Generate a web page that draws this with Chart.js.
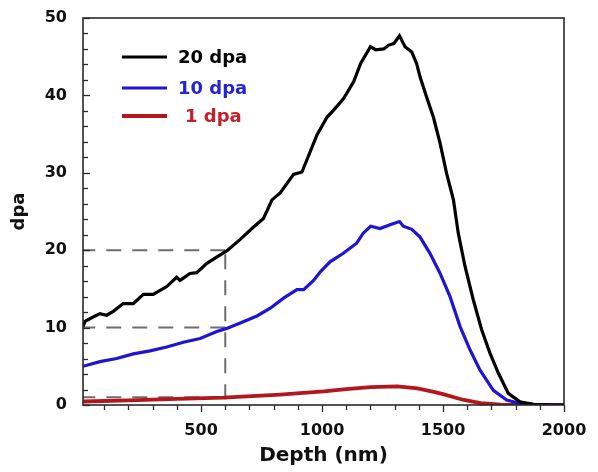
<!DOCTYPE html>
<html><head><meta charset="utf-8">
<script src="https://cdn.jsdelivr.net/npm/chart.js@4.4.1/dist/chart.umd.min.js"></script>
<style>html,body{margin:0;padding:0;background:#fff}#wrap{width:598px;height:472px}</style>
</head><body><div id="wrap"><canvas id="c" width="598" height="472"></canvas></div>
<script>
// ---- data ----
const seriesNames = ['20 dpa', '10 dpa', '1 dpa'];

const depth20 = [12,20,50,82,110,137,178,220,261,302,358,399,413,454,482,524,579,606,662,717,758,793,827,882,917,979,1021,1048,1089,1131,1159,1200,1221,1255,1276,1297,1320,1343,1371,1391,1405,1432,1460,1488,1515,1543,1563,1591,1625,1660,1694,1729,1770,1818,1874,1950,2000];
const dpa20   = [10.1,10.8,11.3,11.8,11.6,12.1,13.1,13.1,14.3,14.3,15.3,16.5,16.1,17.0,17.1,18.3,19.4,19.9,21.4,23.0,24.1,26.5,27.4,29.8,30.1,34.9,37.2,38.1,39.6,41.8,44.1,46.3,45.9,46.0,46.5,46.7,47.7,46.3,45.6,44.1,42.4,39.8,37.2,33.8,29.9,26.5,22.2,17.9,13.6,9.7,6.7,4.1,1.5,0.4,0.1,0,0];

const depth10 = [12,82,151,220,289,358,427,496,565,606,662,731,786,841,896,924,965,993,1033,1088,1143,1170,1201,1240,1281,1320,1336,1371,1405,1446,1488,1529,1571,1612,1653,1708,1763,1818,1870,1950,2000];
const dpa10   = [5.0,5.6,6.0,6.6,7.0,7.5,8.1,8.6,9.5,9.9,10.6,11.5,12.5,13.8,14.9,14.9,16.1,17.2,18.5,19.6,20.9,22.2,23.1,22.8,23.3,23.7,23.1,22.7,21.7,19.6,17.0,14.0,10.1,7.1,4.5,1.9,0.65,0.2,0.05,0,0];

const depth1 = [12,200,400,593,827,1007,1100,1200,1311,1394,1462,1500,1545,1586,1656,1739,1800,1900,2000];
const dpa1   = [0.45,0.6,0.8,0.95,1.35,1.75,2.05,2.3,2.4,2.15,1.7,1.4,1.0,0.65,0.25,0.05,0,0,0];

const refLevels = [20, 10, 1];   // dashed horizontal guide levels (dpa)
const refDepth = 600;             // dashed vertical guide depth (nm)

const xMin = 12, xMax = 2000, yMin = 0, yMax = 50;
const xTickLabels = [500, 1000, 1500, 2000];
const yTickLabels = [0, 10, 20, 30, 40, 50];

// ---- styles ----
const colors = ['#000000', '#1e14d4', '#b3161c'];
const widths = [3.2, 3.2, 3.8];
const legendTextColors = ['#000000', '#2424d6', '#c0222a'];
const FONT = 'DejaVu Sans';

const toXY = (xs, ys) => xs.map((v, i) => ({x: v, y: ys[i]}));

const datasets = [
  {label: seriesNames[0], data: toXY(depth20, dpa20)},
  {label: seriesNames[1], data: toXY(depth10, dpa10)},
  {label: seriesNames[2], data: toXY(depth1, dpa1)}
].map((d, i) => Object.assign(d, {
  borderColor: colors[i], borderWidth: widths[i], pointRadius: 0, tension: 0, fill: false
}));

refLevels.forEach(lv => datasets.push({
  label: 'ref' + lv, data: [{x: refDepth, y: lv}, {x: xMin, y: lv}],
  borderColor: '#6e6e6e', borderWidth: 2, borderDash: [15, 11], pointRadius: 0, fill: false
}));
datasets.push({
  label: 'refV', data: [{x: refDepth, y: refLevels[0]}, {x: refDepth, y: yMin}],
  borderColor: '#6e6e6e', borderWidth: 2, borderDash: [15, 11], borderDashOffset: -4,
  pointRadius: 0, fill: false
});

const framePlugin = {
  id: 'frame',
  afterDatasetsDraw(chart) {
    const {ctx, chartArea: a, scales: {x, y}} = chart;
    ctx.save();
    ctx.strokeStyle = '#2a2a2a';
    ctx.lineWidth = 1.6;
    ctx.strokeRect(a.left, a.top, a.right - a.left, a.bottom - a.top);
    ctx.lineWidth = 1.3;
    for (let v = yMin; v <= yMax; v += 2) {
      const p = Math.round(y.getPixelForValue(v)) + 0.5;
      const L = v % 10 === 0 ? 7 : 5;
      ctx.beginPath(); ctx.moveTo(a.left, p); ctx.lineTo(a.left + L, p); ctx.stroke();
    }
    for (let v = 100; v <= xMax; v += 100) {
      const p = Math.round(x.getPixelForValue(v)) + 0.5;
      const L = v % 500 === 0 ? 7 : 5;
      ctx.beginPath(); ctx.moveTo(p, a.bottom); ctx.lineTo(p, a.bottom + L); ctx.stroke();
    }
    // legend
    ctx.font = 'bold 18px "' + FONT + '"';
    ctx.textBaseline = 'middle';
    ctx.textAlign = 'left';
    const rows = [39, 70, 98];
    const indent = [0, 0, 7];
    seriesNames.forEach((n, i) => {
      const yy = a.top + rows[i];
      ctx.strokeStyle = colors[i]; ctx.lineWidth = widths[i];
      ctx.beginPath(); ctx.moveTo(a.left + 39, yy); ctx.lineTo(a.left + 84, yy); ctx.stroke();
      ctx.fillStyle = legendTextColors[i];
      ctx.fillText(n, a.left + 95 + indent[i], yy + 1);
    });
    ctx.restore();
  }
};

new Chart(document.getElementById('c'), {
  type: 'line',
  data: {datasets},
  options: {
    responsive: false, animation: false, devicePixelRatio: 1,
    layout: {padding: {top: 18, right: 34, left: 0, bottom: 0}},
    plugins: {legend: {display: false}, tooltip: {enabled: false}},
    scales: {
      x: {
        type: 'linear', min: xMin, max: xMax,
        grid: {display: false}, border: {display: false},
        afterBuildTicks: s => { s.ticks = xTickLabels.map(v => ({value: v})); },
        afterFit: s => { s.height = 67; },
        ticks: {color: '#111', padding: 8, maxRotation: 0, callback: v => String(v),
                font: {family: FONT, weight: 'bold', size: 16}},
        title: {display: true, text: 'Depth (nm)', color: '#111', padding: {top: 0, bottom: 4},
                font: {family: FONT, weight: 'bold', size: 20}}
      },
      y: {
        type: 'linear', min: yMin, max: yMax,
        grid: {display: false}, border: {display: false},
        afterBuildTicks: s => { s.ticks = yTickLabels.map(v => ({value: v})); },
        afterFit: s => { s.width = 83; },
        ticks: {color: '#111', padding: 8, callback: v => String(v),
                font: {family: FONT, weight: 'bold', size: 16}},
        title: {display: true, text: 'dpa', color: '#111', padding: {top: 9, bottom: 0},
                font: {family: FONT, weight: 'bold', size: 18}}
      }
    }
  },
  plugins: [framePlugin]
});
</script>
</body></html>
